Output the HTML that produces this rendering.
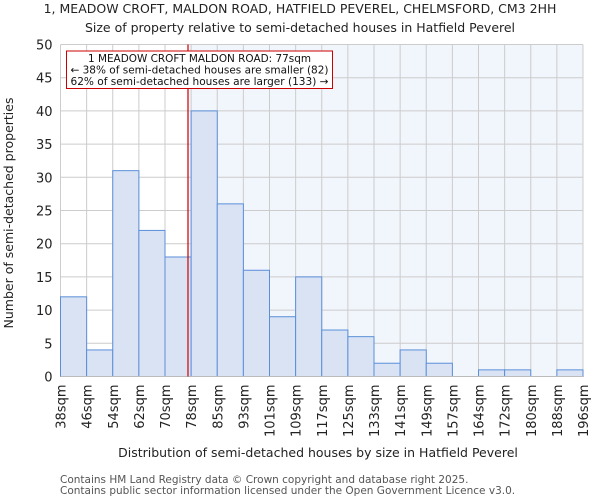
<!DOCTYPE html>
<html><head><meta charset="utf-8"><style>
body{margin:0;background:#fff;width:600px;height:500px;overflow:hidden;font-family:"DejaVu Sans","Liberation Sans",sans-serif}
</style></head><body>
<svg id="chart" width="600" height="500" xmlns="http://www.w3.org/2000/svg" font-family="DejaVu Sans, Liberation Sans, sans-serif">
<text x="300" y="13" text-anchor="middle" font-size="12.5" fill="#222">1, MEADOW CROFT, MALDON ROAD, HATFIELD PEVEREL, CHELMSFORD, CM3 2HH</text>
<text x="300" y="32" text-anchor="middle" font-size="12.5" fill="#222">Size of property relative to semi-detached houses in Hatfield Peverel</text>
<g id="plot"></g>
<text x="318" y="457" text-anchor="middle" font-size="12.5" fill="#222">Distribution of semi-detached houses by size in Hatfield Peverel</text>
<text transform="translate(13,213) rotate(-90)" text-anchor="middle" font-size="12.5" fill="#222">Number of semi-detached properties</text>
<text x="60" y="483" font-size="10.5" fill="#555">Contains HM Land Registry data © Crown copyright and database right 2025.</text>
<text x="60" y="494" font-size="10.5" fill="#555">Contains public sector information licensed under the Open Government Licence v3.0.</text>
</svg>
<script>
const binLabels=["38sqm","46sqm","54sqm","62sqm","70sqm","78sqm","85sqm","93sqm","101sqm","109sqm","117sqm","125sqm","133sqm","141sqm","149sqm","157sqm","164sqm","172sqm","180sqm","188sqm","196sqm"];
const counts=[12,4,31,22,18,40,26,16,9,15,7,6,2,4,2,0,1,1,0,1];
const yTicks=[0,5,10,15,20,25,30,35,40,45,50];
const propertyPos=4.88;
const NS="http://www.w3.org/2000/svg";
const L=60.5,R=583,T=44.5,B=376.5,YMAX=50;
const nb=counts.length;
const x=i=>L+(R-L)*i/nb;
const y=v=>B-(B-T)*v/YMAX;
const g=document.getElementById('plot');
function mk(t,a){const e=document.createElementNS(NS,t);for(const k in a)e.setAttribute(k,a[k]);g.appendChild(e);return e;}
let bg=mk('rect',{x:x(propertyPos),y:T,width:R-x(propertyPos),height:B-T,fill:'#f1f5fc'});


for(const v of yTicks){let l=mk('line',{x1:L,x2:R,y1:y(v),y2:y(v),stroke:'#cccccc','stroke-width':1});


let t=mk('text',{x:L-8,y:y(v)+5,'text-anchor':'end','font-size':13,fill:'#222'});t.textContent=v;

}
for(let i=0;i<=nb;i++){let l=mk('line',{x1:x(i),x2:x(i),y1:T,y2:B,stroke:'#cccccc','stroke-width':1});


let t=mk('text',{transform:`translate(${x(i)+5},${B+8}) rotate(-90)`,'text-anchor':'end','font-size':13,fill:'#222'});t.textContent=binLabels[i];

}
counts.forEach((c,i)=>{if(c<=0)return;let r=mk('rect',{x:x(i),y:y(c),width:x(i+1)-x(i),height:B-y(c),fill:'#d9e3f4',stroke:'#5b8fd9','stroke-width':1});

});
let ax=mk('line',{x1:L,x2:R,y1:B,y2:B,stroke:'#bbb'});


let pl=mk('line',{x1:x(propertyPos),x2:x(propertyPos),y1:T,y2:B,stroke:'#cc0000','stroke-width':1.2});


let box=mk('rect',{x:66.5,y:51,width:266,height:37.5,fill:'#fff',stroke:'#cc0000','stroke-width':1});


const lines=["1 MEADOW CROFT MALDON ROAD: 77sqm","← 38% of semi-detached houses are smaller (82)","62% of semi-detached houses are larger (133) →"];
lines.forEach((s,i)=>{let t=mk('text',{x:199.5,y:62+i*11.5,'text-anchor':'middle','font-size':10.4,textLength:i===0?223:258,lengthAdjust:'spacingAndGlyphs',fill:'#111'});t.textContent=s;

});
</script>
</body></html>
